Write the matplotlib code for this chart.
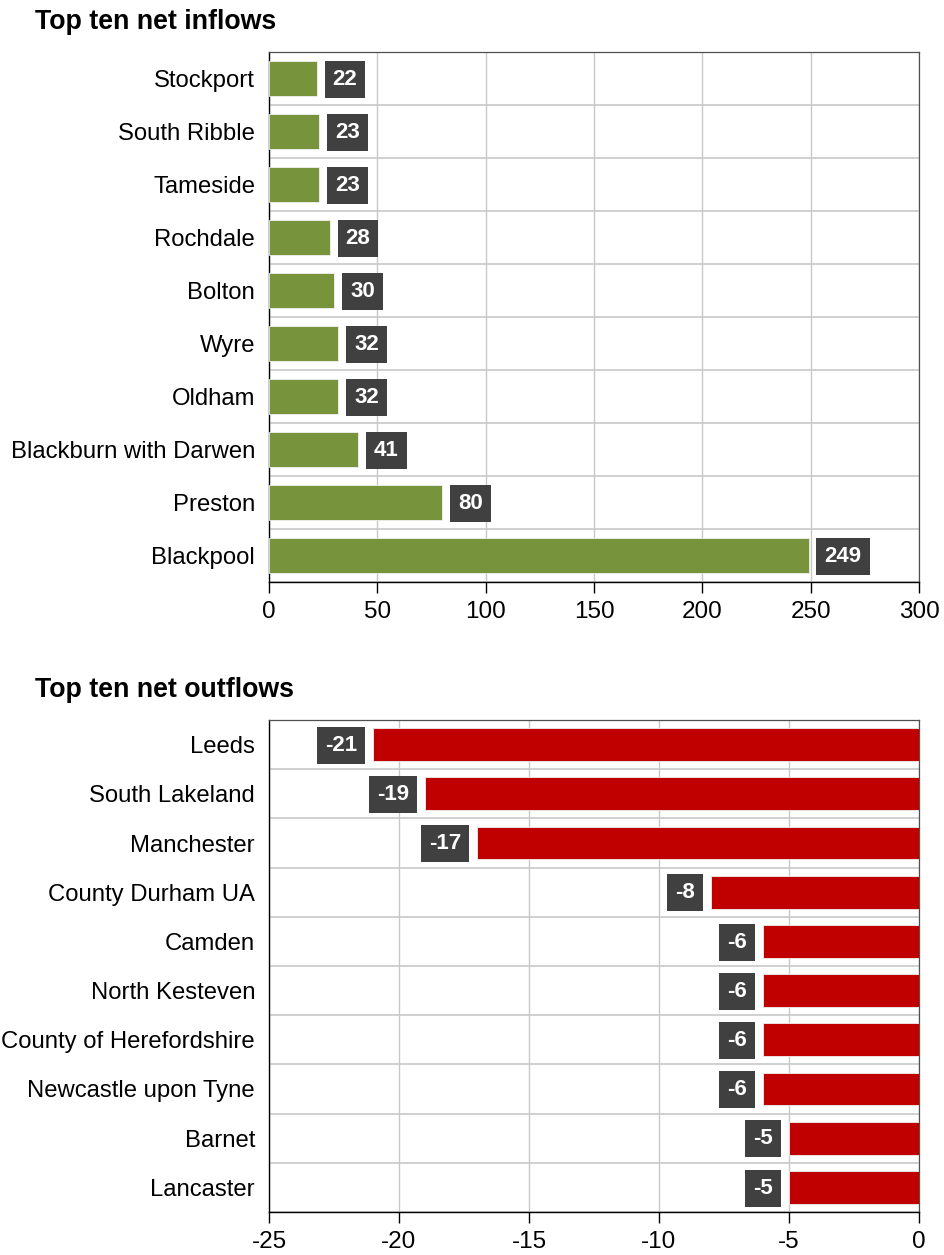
"""Top ten net inflows / outflows horizontal bar charts."""
import matplotlib
matplotlib.use("Agg")
import matplotlib.pyplot as plt
import numpy as np

plt.rcParams["font.family"] = ["Liberation Sans", "DejaVu Sans"]

inflow_areas = ["Stockport", "South Ribble", "Tameside", "Rochdale", "Bolton",
                "Wyre", "Oldham", "Blackburn with Darwen", "Preston", "Blackpool"]
inflow_values = [22, 23, 23, 28, 30, 32, 32, 41, 80, 249]

outflow_areas = ["Leeds", "South Lakeland", "Manchester", "County Durham UA", "Camden",
                 "North Kesteven", "County of Herefordshire", "Newcastle upon Tyne",
                 "Barnet", "Lancaster"]
outflow_values = [-21, -19, -17, -8, -6, -6, -6, -6, -5, -5]

inflow_ticks = [0, 50, 100, 150, 200, 250, 300]
outflow_ticks = [-25, -20, -15, -10, -5, 0]

GREEN = "#77933C"
RED = "#C00000"
BOX = "#404040"
GRID = "#C8C8C8"


def draw_panel(ax, areas, values, ticks, color, title, title_y):
    n = len(areas)
    y = np.arange(n)[::-1]
    ax.barh(y, values, height=0.67, color=color, edgecolor="#f0f0f0", linewidth=0.6, zorder=3)
    ax.set_xlim(ticks[0], ticks[-1])
    ax.set_ylim(-0.5, n - 0.5)
    ax.set_yticks(y)
    ax.set_yticklabels(areas, fontsize=17.2)
    ax.set_yticks(np.arange(n + 1) - 0.5, minor=True)
    ax.set_xticks(ticks)
    ax.set_xticklabels([str(t) for t in ticks], fontsize=17.5)
    ax.tick_params(axis="y", which="both", length=0, pad=10)
    ax.tick_params(axis="x", length=8, width=1, pad=6, colors="black")
    ax.grid(axis="x", color=GRID, linewidth=1, zorder=0)
    ax.grid(axis="y", which="minor", color=GRID, linewidth=1.2, zorder=0)
    for s in ("top", "right"):
        ax.spines[s].set_color("#505050")
        ax.spines[s].set_linewidth(0.9)
    for s in ("left", "bottom"):
        ax.spines[s].set_color("black")
        ax.spines[s].set_linewidth(1.0)
    for yy, v in zip(y, values):
        off = 11.5 if v >= 0 else -11.5
        ax.annotate(str(v), (v, yy), xytext=(off, -0.5), textcoords="offset points",
                    ha="left" if v >= 0 else "right", va="center",
                    fontsize=16, fontweight="bold", color="white", zorder=4,
                    bbox=dict(boxstyle="square,pad=0.36", facecolor=BOX, edgecolor="none"))
    ax.figure.text(35 / 945, title_y, title, fontsize=19.3, fontweight="bold",
                   ha="left", va="center")


fig = plt.figure(figsize=(9.45, 12.55), dpi=100)
ax1 = fig.add_axes([269 / 945, 1 - 582 / 1255, 650 / 945, 530 / 1255])
ax2 = fig.add_axes([269 / 945, 1 - 1212 / 1255, 650 / 945, 492 / 1255])

draw_panel(ax1, inflow_areas, inflow_values, inflow_ticks, GREEN,
           "Top ten net inflows", 1 - 22 / 1255)
draw_panel(ax2, outflow_areas, outflow_values, outflow_ticks, RED,
           "Top ten net outflows", 1 - 690 / 1255)

fig.savefig("out.png", dpi=100)
plt.close(fig)
